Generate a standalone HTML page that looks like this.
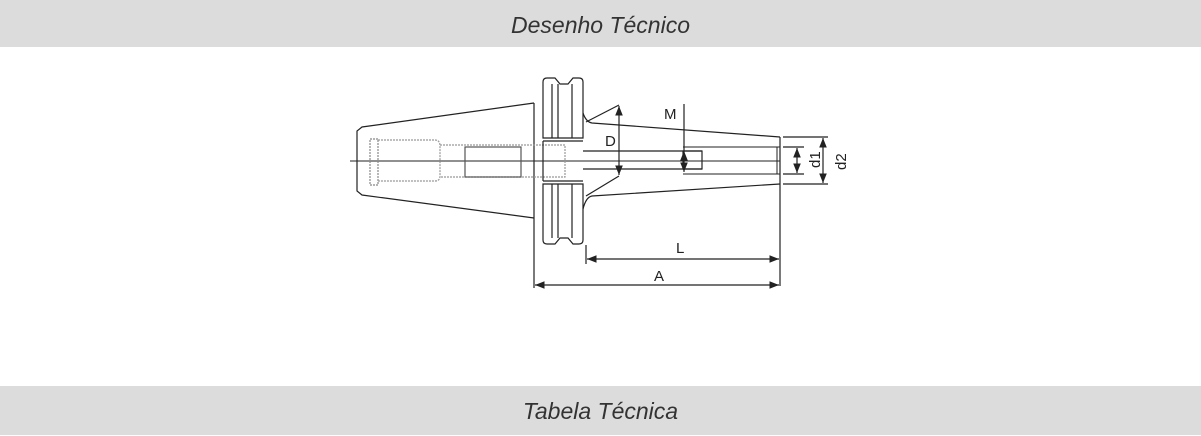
<!DOCTYPE html>
<html><head><meta charset="utf-8"><style>
body{margin:0;width:1201px;height:435px;background:#fff;overflow:hidden;position:relative;font-family:"Liberation Sans",sans-serif}
.bar{position:absolute;left:0;width:1201px;background:#dcdcdc;color:#333;font-style:italic;font-size:23px;text-align:center;font-weight:300}
</style></head><body>
<div class="bar" style="top:0;height:47px;line-height:50px">Desenho Técnico</div>
<div class="bar" style="top:386px;height:49px;line-height:50px">Tabela Técnica</div>
<svg style="position:absolute;left:0;top:0" width="1201" height="435" fill="none" stroke="#222" stroke-width="1.2">
<defs><marker id="a" viewBox="0 0 10 10" refX="10" refY="5" markerWidth="8" markerHeight="8" orient="auto-start-reverse"><path d="M0,1 L10,5 L0,9z" fill="#222" stroke="none"/></marker></defs>
<!-- left taper -->
<path d="M534,103 L362,127 L357,131 L357,191 L362,195 L534,218"/>
<line x1="534" y1="103" x2="534" y2="288"/>
<line x1="350" y1="161" x2="780" y2="161" stroke-width="1"/>
<!-- left end -->
<rect x="370" y="139" width="8" height="46" stroke="#888" stroke-dasharray="2 1"/>
<path d="M378,140 H435 Q440,140 440,146 V176 Q440,181 435,181 H378" stroke="#999" stroke-dasharray="2 1"/>
<path d="M440,145 H565 V177 H440" stroke="#999" stroke-dasharray="2 1"/>
<rect x="465" y="147" width="56" height="30" stroke="#555"/>
<!-- flange -->
<path d="M547,78 H555 L560,84 H568 L573,78 H579 Q583,78 583,82 V138 H543 V82 Q543,78 547,78Z"/>
<path d="M547,244 H555 L560,238 H568 L573,244 H579 Q583,244 583,240 V184 H543 V240 Q543,244 547,244Z"/>
<line x1="543" y1="141" x2="583" y2="141"/><line x1="543" y1="181" x2="583" y2="181"/>
<line x1="552" y1="84" x2="552" y2="138"/><line x1="558" y1="84" x2="558" y2="138"/><line x1="572" y1="84" x2="572" y2="138"/>
<line x1="552" y1="184" x2="552" y2="238"/><line x1="558" y1="184" x2="558" y2="238"/><line x1="572" y1="184" x2="572" y2="238"/>
<line x1="543" y1="141" x2="543" y2="181"/>
<!-- right taper -->
<path d="M583,113 Q586,122 592,123 L780,137"/>
<path d="M583,209 Q586,197 592,196 L780,184"/>
<line x1="780" y1="137" x2="780" y2="286"/>
<line x1="583" y1="151" x2="702" y2="151"/><line x1="583" y1="169" x2="702" y2="169"/>
<rect x="683" y="151" width="19" height="18"/>
<line x1="683" y1="147" x2="780" y2="147" stroke-width="1"/><line x1="683" y1="174" x2="780" y2="174" stroke-width="1"/>
<rect x="777" y="147" width="3" height="27" stroke-width="1"/>
<!-- D -->
<line x1="586" y1="122" x2="619" y2="105"/><line x1="586" y1="196" x2="619" y2="176"/>
<line x1="619" y1="106" x2="619" y2="175" marker-start="url(#a)" marker-end="url(#a)"/>
<!-- M -->
<line x1="684" y1="104" x2="684" y2="151"/>
<line x1="684" y1="151" x2="684" y2="172" marker-start="url(#a)" marker-end="url(#a)"/>
<!-- d1 d2 -->
<line x1="783" y1="137" x2="828" y2="137"/><line x1="783" y1="184" x2="828" y2="184"/>
<line x1="783" y1="147" x2="804" y2="147"/><line x1="783" y1="174" x2="804" y2="174"/>
<line x1="797" y1="148" x2="797" y2="173" marker-start="url(#a)" marker-end="url(#a)"/>
<line x1="823" y1="138" x2="823" y2="183" marker-start="url(#a)" marker-end="url(#a)"/>
<!-- L A -->
<line x1="586" y1="245" x2="586" y2="264"/>
<line x1="587" y1="259" x2="779" y2="259" marker-start="url(#a)" marker-end="url(#a)"/>
<line x1="535" y1="285" x2="779" y2="285" marker-start="url(#a)" marker-end="url(#a)"/>
<g fill="#222" stroke="none" font-family="Liberation Sans,sans-serif" font-size="15">
<text x="605" y="146">D</text><text x="664" y="119">M</text>
<text x="676" y="253">L</text><text x="654" y="281">A</text>
<text transform="translate(820,168) rotate(-90)">d1</text>
<text transform="translate(846,170) rotate(-90)">d2</text>
</g>
</svg>
</body></html>
